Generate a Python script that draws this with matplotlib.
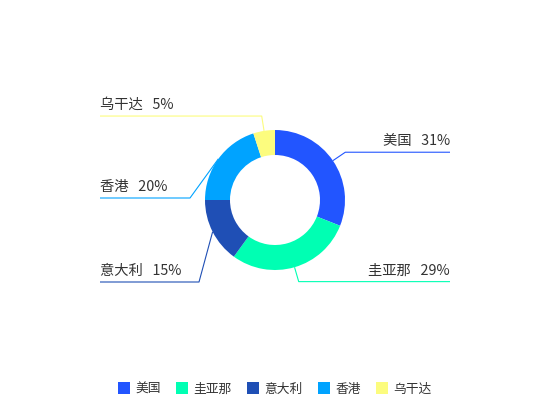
import numpy as np
import matplotlib
matplotlib.use("Agg")
import matplotlib.pyplot as plt
from matplotlib.lines import Line2D

plt.rcParams['font.family'] = ['Noto Sans CJK SC', 'DejaVu Sans']

# ── data ────────────────────────────────────────────────
names = ['美国', '圭亚那', '意大利', '香港', '乌干达']
values = [31, 29, 15, 20, 5]
colors = ['#2255ff', '#00ffb3', '#1f4fb5', '#00a3ff', '#fcfc7e']

# ── layout (pixel coords, y from top) ───────────────────
W, H = 550, 420
cx, cy = 275, 200
R, r_in = 70, 45
x_left, x_right = 100, 450
# labels pushed apart to avoid overlap (echarts style)
elbow_override = {'意大利': (199, 282), '香港': (190, 198)}
TEXT = '#333333'


def fy(y):
    return H - y


fig = plt.figure(figsize=(5.5, 4.2), dpi=100)
ax = fig.add_axes([0, 0, 1, 1])

wedges, _ = ax.pie(values, colors=colors, startangle=90, counterclock=False,
                   radius=R, center=(cx, fy(cy)),
                   wedgeprops=dict(width=R - r_in, linewidth=0))
ax.set_xlim(0, W)
ax.set_ylim(0, H)
ax.set_aspect('equal')
ax.axis('off')

total = sum(values)
for w, name, v, c in zip(wedges, names, values, colors):
    mid = np.deg2rad((w.theta1 + w.theta2) / 2)
    ex, ey = cx + R * np.cos(mid), cy - R * np.sin(mid)
    if name in elbow_override:
        bx, by = elbow_override[name]
    else:
        bx, by = cx + 85 * np.cos(mid), cy - 85 * np.sin(mid)
    right = bx > cx
    end_x = x_right if right else x_left
    ax.plot([ex, bx, end_x], [fy(ey), fy(by), fy(by)], color=c, lw=0.8,
            solid_capstyle='butt')
    pct = round(v / total * 100)
    ax.text(end_x, fy(by - 11), f'{name}   {pct}%', ha='right' if right else 'left',
            va='center', fontsize=10.3, color=TEXT)

handles = [Line2D([], [], marker='s', ls='', markersize=8.8, color=c,
                  markeredgewidth=0) for c in colors]
ax.legend(handles, names, loc='center', bbox_to_anchor=(cx / W, 1 - 389 / H),
          ncol=5, frameon=False, fontsize=9.2, handlelength=0.9,
          handletextpad=0.4, columnspacing=1.25, labelcolor=TEXT)

fig.savefig('out.png', dpi=100)
